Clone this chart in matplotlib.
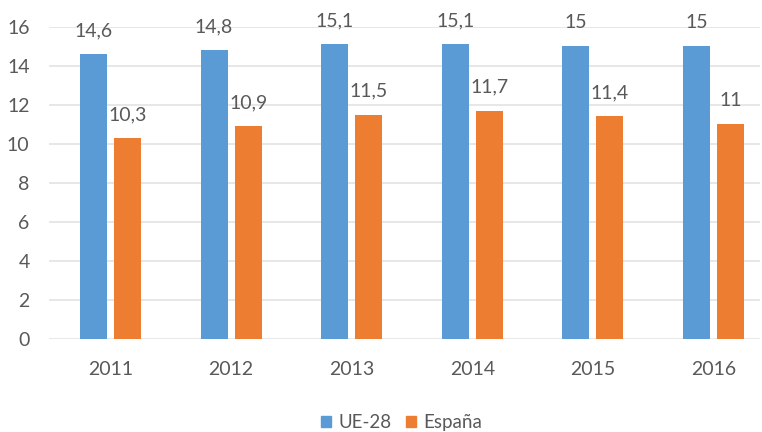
import matplotlib
matplotlib.use("Agg")
import matplotlib.pyplot as plt
import numpy as np
from matplotlib.patches import Patch

years = ["2011", "2012", "2013", "2014", "2015", "2016"]
ue28 = [14.6, 14.8, 15.1, 15.1, 15.0, 15.0]
espana = [10.3, 10.9, 11.5, 11.7, 11.4, 11.0]
series_names = ["UE-28", "España"]

def fmt(v):
    s = ("%.1f" % v).rstrip("0").rstrip(".")
    return s.replace(".", ",")

plt.rcParams['font.family'] = ['Lato', 'DejaVu Sans']
txt = "#595959"
blue = "#5B9BD5"
orange = "#ED7D31"

fig = plt.figure(figsize=(7.62, 4.32), dpi=100)
ax = fig.add_axes([49/762, 93/432, (760-49)/762, (339-26.7)/432])

x = np.arange(len(years))
w = 0.223
off = 0.141
b1 = ax.bar(x - off, ue28, w, color=blue, zorder=3)
b2 = ax.bar(x + off, espana, w, color=orange, zorder=3)

for bars, vals in ((b1, ue28), (b2, espana)):
    for r, v in zip(bars, vals):
        ax.annotate(fmt(v), (r.get_x() + r.get_width()/2, v), xytext=(0, 13),
                    textcoords="offset points", ha="center", va="baseline",
                    fontsize=14, color=txt)

ax.set_xlim(-0.51, 5.386)
ax.set_ylim(0, 16)
ax.set_yticks(range(0, 17, 2))
ax.set_xticks(x)
ax.set_xticklabels(years)
ax.yaxis.grid(True, color="#E3E3E3", linewidth=1.2, zorder=0)
ax.set_axisbelow(True)
for s in ax.spines.values():
    s.set_visible(False)
ax.tick_params(axis="both", length=0, labelsize=14, colors=txt)
ax.tick_params(axis="y", pad=14)
ax.tick_params(axis="x", pad=16)

handles = [Patch(color=blue), Patch(color=orange)]
fig.legend(handles, series_names, loc="center", bbox_to_anchor=(0.527, 0.022),
           ncol=2, frameon=False, fontsize=13.5, labelcolor=txt,
           handlelength=0.5, handleheight=0.5, handletextpad=0.4, columnspacing=0.8)

fig.savefig("out.png", dpi=100)
